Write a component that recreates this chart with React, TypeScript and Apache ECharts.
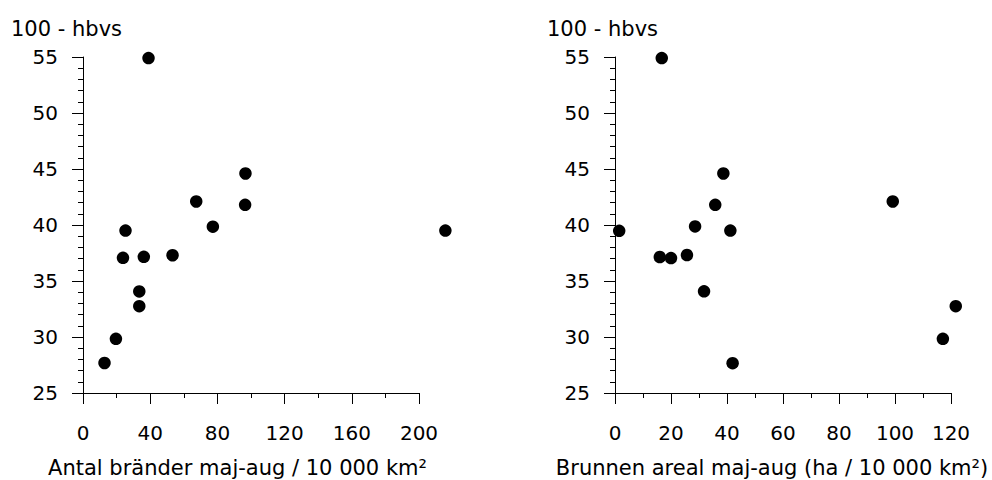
import React, { useEffect, useRef } from "react";
import * as echarts from "echarts";

const yName = "100 - hbvs";
const leftXName = "Antal bränder maj-aug / 10 000 km²";
const rightXName = "Brunnen areal maj-aug (ha / 10 000 km²)";

const leftX = [39, 96.7, 67.4, 96.5, 77.3, 25.3, 215.7, 23.8, 36.2, 53.3, 33.5, 33.5, 19.6, 12.8];
const leftY = [54.9, 44.6, 42.1, 41.8, 39.85, 39.5, 39.5, 37.07, 37.16, 37.3, 34.07, 32.75, 29.84, 27.68];

const rightX = [16.7, 38.7, 99.2, 35.8, 28.6, 1.5, 41.2, 16.0, 20.0, 25.7, 31.8, 121.7, 117.1, 42.0];
const rightY = [54.9, 44.6, 42.1, 41.8, 39.87, 39.48, 39.5, 37.14, 37.05, 37.32, 34.08, 32.75, 29.84, 27.66];

const yMin = 25, yMax = 55, yStep = 5;
const leftXMax = 200, leftXStep = 40;
const rightXMax = 120, rightXStep = 20;

const FONT = "DejaVu Sans";

export default function App() {
  const ref = useRef<HTMLDivElement>(null);
  useEffect(() => {
    if (!ref.current) return;
    const chart = echarts.init(ref.current, null, { renderer: "svg" });
    const axisLine = { show: true, onZero: false, lineStyle: { color: "#000", width: 1 } };
    const axisTick = { show: true, length: 11, lineStyle: { color: "#000", width: 1 } };
    const minorTick = { show: true, splitNumber: 2, length: 5, lineStyle: { color: "#000", width: 1 } };
    const xAxisBase = (gi: number, max: number, step: number) => ({
      type: "value",
      gridIndex: gi,
      min: 0,
      max,
      interval: step,
      axisLine,
      axisTick,
      minorTick,
      splitLine: { show: false },
      minorSplitLine: { show: false },
      axisLabel: { color: "#000", fontFamily: FONT, fontSize: 20, margin: 40, verticalAlign: "middle" },
    });
    const yAxisBase = (gi: number) => ({
      type: "value",
      gridIndex: gi,
      min: yMin,
      max: yMax,
      interval: yStep,
      axisLine,
      axisTick,
      minorTick: { ...minorTick, splitNumber: 5 },
      splitLine: { show: false },
      minorSplitLine: { show: false },
      axisLabel: { color: "#000", fontFamily: FONT, fontSize: 20, margin: 25 },
    });
    const sym = { symbol: "circle", symbolSize: 12.5, itemStyle: { color: "#000", opacity: 1 }, clip: false };
    chart.setOption({
      animation: false,
      backgroundColor: "#fff",
      grid: [
        { left: 83, top: 57, width: 336, height: 336 },
        { left: 615, top: 57, width: 336, height: 336 },
      ],
      xAxis: [xAxisBase(0, leftXMax, leftXStep), xAxisBase(1, rightXMax, rightXStep)],
      yAxis: [yAxisBase(0), yAxisBase(1)],
      series: [
        { type: "scatter", xAxisIndex: 0, yAxisIndex: 0, data: leftX.map((x, i) => [x, leftY[i]]), ...sym },
        { type: "scatter", xAxisIndex: 1, yAxisIndex: 1, data: rightX.map((x, i) => [x, rightY[i]]), ...sym },
      ],
      graphic: [
        { type: "text", left: 11, top: 18, style: { text: yName, font: `21px '${FONT}'`, fill: "#000" } },
        { type: "text", left: 547, top: 18, style: { text: yName, font: `21px '${FONT}'`, fill: "#000" } },
        { type: "text", x: 237.5, y: 468, style: { text: leftXName, font: `21px '${FONT}'`, fill: "#000", textAlign: "center", textVerticalAlign: "middle" } },
        { type: "text", x: 772, y: 468, style: { text: rightXName, font: `21px '${FONT}'`, fill: "#000", textAlign: "center", textVerticalAlign: "middle" } },
      ],
    });
    return () => chart.dispose();
  }, []);
  return <div ref={ref} style={{ position: "fixed", left: 0, top: 0, width: 992, height: 480 }} />;
}
